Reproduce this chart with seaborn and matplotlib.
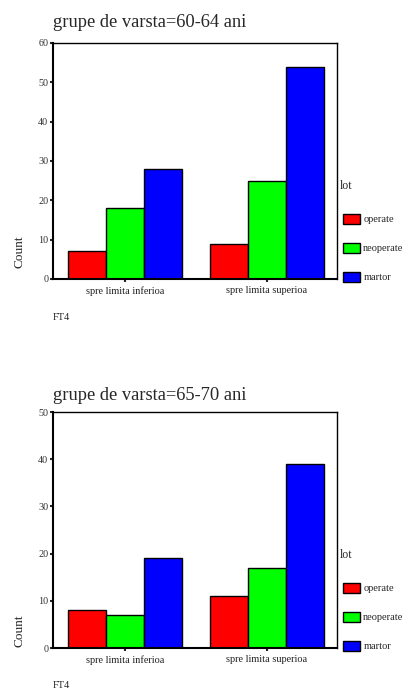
import numpy as np
import pandas as pd
import matplotlib
matplotlib.use('Agg')
import matplotlib.pyplot as plt
import seaborn as sns
from matplotlib.patches import Patch

# ---- data ----
categories = ['spre limita inferioa', 'spre limita superioa']
groups = ['operate', 'neoperate', 'martor']
age_titles = ['grupe de varsta=60-64 ani', 'grupe de varsta=65-70 ani']

counts_60_64 = {'operate': [7, 9], 'neoperate': [18, 25], 'martor': [28, 54]}
counts_65_70 = {'operate': [8, 11], 'neoperate': [7, 17], 'martor': [19, 39]}
y_max = [60, 50]

colors = ['#FF0000', '#00FF00', '#0000FF']

sns.set_style('white')
plt.rcParams['font.family'] = ['Liberation Serif', 'DejaVu Serif']


def to_frame(counts):
    rows = []
    for g in groups:
        for cat, v in zip(categories, counts[g]):
            rows.append({'FT4': cat, 'lot': g, 'Count': v})
    return pd.DataFrame(rows)


W, H = 405, 695
fig = plt.figure(figsize=(W / 100, H / 100), dpi=100)

# axes boxes in pixels: (left, top, right, bottom)
boxes = [(53, 43, 337, 279), (53, 412, 337, 648)]
title_base = [27, 400]
ft4_y = [318, 686]
count_y = [0.114, 0.072]

for i, counts in enumerate([counts_60_64, counts_65_70]):
    l, t, r, b = boxes[i]
    ax = fig.add_axes([l / W, 1 - b / H, (r - l) / W, (b - t) / H])
    df = to_frame(counts)
    sns.barplot(data=df, x='FT4', y='Count', hue='lot', order=categories,
                hue_order=groups, palette=colors, edgecolor='black',
                linewidth=1.0, saturation=1, width=0.8, ax=ax, legend=False)
    ax.set_xlim(-0.507, 1.493)
    ax.set_ylim(0, y_max[i])
    ax.set_yticks(np.arange(0, y_max[i] + 1, 10))
    for s in ax.spines.values():
        s.set_color('black')
        s.set_linewidth(1.0)
    ax.spines['left'].set_linewidth(1.5)
    ax.spines['bottom'].set_linewidth(1.5)
    ax.tick_params(axis='y', direction='out', length=2.5, width=1.5,
                   labelsize=7.3, labelcolor='#333333', pad=1, left=True)
    ax.tick_params(axis='x', direction='out', length=2.5, width=1.5,
                   labelsize=7.4, labelcolor='#222222', pad=2.5, bottom=True)
    ax.set_xlabel('')
    ax.set_ylabel('Count', fontsize=9.5)
    ax.yaxis.set_label_coords(-0.097, count_y[i])

    # legend: title drawn separately so the swatches sit a little to the right
    fig.text(340 / W, 1 - (t + 143) / H, 'lot', fontsize=8.5,
             va='center', ha='left')
    handles = [Patch(facecolor=c, edgecolor='black', linewidth=1.0) for c in colors]
    ax.legend(handles, groups, loc='upper left',
              bbox_to_anchor=(343 / W, 1 - (t + 171) / H),
              bbox_transform=fig.transFigure, frameon=False,
              fontsize=7.5, borderpad=0, borderaxespad=0,
              handlelength=1.65, handleheight=1.05,
              handletextpad=0.3, labelspacing=1.78)

    fig.text(l / W, 1 - title_base[i] / H, age_titles[i], fontsize=13.3,
             va='baseline', ha='left')
    fig.text(l / W, 1 - ft4_y[i] / H, 'FT4', fontsize=7.5, va='center', ha='left')

fig.savefig('out.png', dpi=100)
plt.close(fig)
